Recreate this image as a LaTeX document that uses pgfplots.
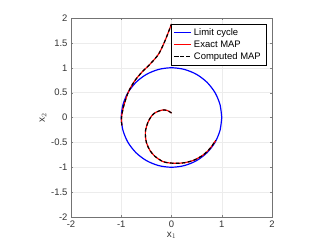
\documentclass[border=0pt]{standalone}
\usepackage{fontspec}
\setmainfont{Liberation Sans}
\usepackage{pgfplots}
\pgfplotsset{compat=1.18}
\begin{document}
\begin{tikzpicture}
\useasboundingbox (0bp,0bp) rectangle (332bp,249bp);
\begin{axis}[
  at={(71bp,32bp)}, anchor=south west,
  scale only axis, width=201bp, height=199bp,
  xmin=-2, xmax=2, ymin=-2, ymax=2,
  xtick={-2,-1,0,1,2},
  ytick={-2,-1.5,-1,-0.5,0,0.5,1,1.5,2},
  yticklabel style={/pgf/number format/fixed},
  /pgf/number format/assume math mode=true,
  ticklabel style={font=\fontsize{9.5}{11}\selectfont, text=black!80},
  grid=major,
  major grid style={gray!15, line width=0.4pt},
  axis line style={black!55},
  tick align=inside,
  major tick length=2.5pt,
  xlabel={x$_1$}, ylabel={x$_2$},
  xlabel style={font=\fontsize{10}{12}\selectfont, text=black!80, yshift=2pt},
  ylabel style={font=\fontsize{10}{12}\selectfont, text=black!80, yshift=-2pt},
  legend cell align=left,
  legend pos=north east,
  legend style={font=\fontsize{9.5}{11}\selectfont},
]
\addplot[blue, line width=1.2pt, smooth] coordinates {
(1,0) (0.9659,0.2588) (0.8660,0.5) (0.7071,0.7071) (0.5,0.8660) (0.2588,0.9659)
(0,1) (-0.2588,0.9659) (-0.5,0.8660) (-0.7071,0.7071) (-0.8660,0.5) (-0.9659,0.2588)
(-1,0) (-0.9659,-0.2588) (-0.8660,-0.5) (-0.7071,-0.7071) (-0.5,-0.8660) (-0.2588,-0.9659)
(0,-1) (0.2588,-0.9659) (0.5,-0.8660) (0.7071,-0.7071) (0.8660,-0.5) (0.9659,-0.2588) (1,0)
};
\addlegendentry{Limit cycle}
\addplot[red, line width=1.2pt, smooth] coordinates {
(0,0.09) (-0.08,0.14) (-0.18,0.15) (-0.30,0.11) (-0.39,0.04) (-0.47,-0.10) (-0.52,-0.29)
(-0.50,-0.50) (-0.43,-0.66) (-0.33,-0.78) (-0.16,-0.89) (0.05,-0.92) (0.25,-0.91)
(0.44,-0.86) (0.62,-0.76) (0.76,-0.63) (0.88,-0.46)
};
\addlegendentry{Exact MAP}
\addplot[black, line width=1.2pt, smooth, dash pattern=on 3.5pt off 2.5pt, forget plot] coordinates {
(0,0.09) (-0.08,0.14) (-0.18,0.15) (-0.30,0.11) (-0.39,0.04) (-0.47,-0.10) (-0.52,-0.29)
(-0.50,-0.50) (-0.43,-0.66) (-0.33,-0.78) (-0.16,-0.89) (0.05,-0.92) (0.25,-0.91)
(0.44,-0.86) (0.62,-0.76) (0.76,-0.63) (0.88,-0.46)
};
\addplot[red, line width=1.2pt, smooth, forget plot] coordinates {
(-0.99,-0.16) (-0.995,0.0) (-0.97,0.15) (-0.94,0.27) (-0.86,0.51) (-0.73,0.74)
(-0.59,0.91) (-0.43,1.07) (-0.26,1.27) (-0.13,1.54) (0,1.88)
};
\addplot[black, line width=1.2pt, smooth, dash pattern=on 3.5pt off 2.5pt] coordinates {
(-0.99,-0.16) (-0.995,0.0) (-0.97,0.15) (-0.94,0.27) (-0.86,0.51) (-0.73,0.74)
(-0.59,0.91) (-0.43,1.07) (-0.26,1.27) (-0.13,1.54) (0,1.88)
};
\addlegendentry{Computed MAP}
\end{axis}
\end{tikzpicture}
\end{document}
